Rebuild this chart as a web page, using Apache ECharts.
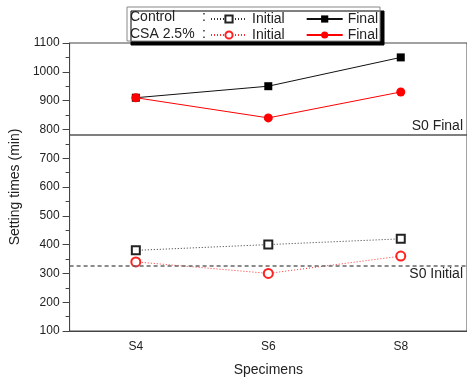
<!DOCTYPE html>
<html>
<head>
<meta charset="utf-8">
<script src="https://cdn.jsdelivr.net/npm/echarts@6/dist/echarts.min.js"></script>
<style>
  html, body { margin: 0; padding: 0; background: #fff; }
  #chart { width: 467px; height: 382px; }
</style>
</head>
<body>
<div id="chart"></div>
<script>
const categories = ['S4', 'S6', 'S8'];
const controlInitial = [380, 400, 420];
const controlFinal = [910, 950, 1050];
const csaInitial = [340, 300, 360];
const csaFinal = [910, 840, 930];
const s0Final = 780;
const s0Initial = 328;

const font = "'Liberation Sans', Arial, sans-serif";
const chart = echarts.init(document.getElementById('chart'));

const legendBase = {
  orient: 'horizontal',
  left: 210,
  padding: 0,
  itemGap: 21,
  itemWidth: 36,
  itemHeight: 9,
  z: 11,
  selectedMode: false,
  textStyle: { fontFamily: font, fontSize: 14, color: '#222' },
  formatter: function (name) { return name.split(' ').pop(); }
};

const option = {
  animation: false,
  grid: {
    left: 69, top: 43, width: 400, height: 289,
    show: true, borderColor: '#444', borderWidth: 1, backgroundColor: 'transparent'
  },
  legend: [
    Object.assign({}, legendBase, { top: 12, data: ['Control Initial', 'Control Final'] }),
    Object.assign({}, legendBase, { top: 28, data: ['CSA Initial', 'CSA Final'] })
  ],
  graphic: [
    {
      type: 'rect', z: 10,
      shape: { x: 127, y: 7, width: 253, height: 34 },
      style: { fill: '#fff', stroke: '#888', lineWidth: 1, shadowColor: '#000', shadowOffsetX: 4, shadowOffsetY: 4, shadowBlur: 0 }
    },
    { type: 'text', z: 11, left: 130, top: 10, style: { text: 'Control', font: '14px ' + font, fill: '#222' } },
    { type: 'text', z: 11, left: 202, top: 10, style: { text: ':', font: '14px ' + font, fill: '#222' } },
    { type: 'text', z: 11, left: 130, top: 27, style: { text: 'CSA 2.5%', font: '14px ' + font, fill: '#222' } },
    { type: 'text', z: 11, left: 202, top: 27, style: { text: ':', font: '14px ' + font, fill: '#222' } }
  ],
  xAxis: {
    type: 'category',
    data: categories,
    boundaryGap: true,
    name: 'Specimens',
    nameLocation: 'middle',
    nameGap: 32,
    nameTextStyle: { fontFamily: font, fontSize: 14, color: '#222' },
    axisLine: { lineStyle: { color: '#444', width: 1 } },
    axisTick: { alignWithLabel: true, length: 6, lineStyle: { color: '#444' } },
    axisLabel: { margin: 10, fontFamily: font, fontSize: 12, color: '#222' },
    splitLine: { show: false }
  },
  yAxis: {
    type: 'value',
    min: 100,
    max: 1100,
    interval: 100,
    name: 'Setting times (min)',
    nameLocation: 'middle',
    nameRotate: 90,
    nameGap: 39,
    nameTextStyle: { fontFamily: font, fontSize: 14, color: '#222' },
    axisLine: { show: true, lineStyle: { color: '#444', width: 1 } },
    axisTick: { show: true, length: 7, lineStyle: { color: '#444' } },
    minorTick: { show: true, splitNumber: 2, length: 4, lineStyle: { color: '#444' } },
    axisLabel: { margin: 10, fontFamily: font, fontSize: 12, color: '#222', formatter: function (v) { return String(v); } },
    splitLine: { show: false }
  },
  series: [
    {
      name: 'Control Initial', type: 'line', data: controlInitial,
      symbol: 'emptyRect', symbolSize: 8,
      itemStyle: { color: '#222', borderWidth: 1.5 },
      lineStyle: { color: '#333', width: 1, type: [1, 2] },
      markLine: {
        silent: true, symbol: 'none',
        lineStyle: { color: '#666', width: 1.5, type: [4, 3] },
        label: { position: 'insideEndBottom', formatter: 'S0 Initial', fontFamily: font, fontSize: 14, color: '#222', distance: [4, 2] },
        data: [{ yAxis: s0Initial }]
      }
    },
    {
      name: 'Control Final', type: 'line', data: controlFinal,
      symbol: 'rect', symbolSize: 8,
      itemStyle: { color: '#000' },
      lineStyle: { color: '#111', width: 1 },
      markLine: {
        silent: true, symbol: 'none',
        lineStyle: { color: '#555', width: 1.5, type: 'solid' },
        label: { position: 'insideEndTop', formatter: 'S0 Final', fontFamily: font, fontSize: 14, color: '#222', distance: [4, 2] },
        data: [{ yAxis: s0Final }]
      }
    },
    {
      name: 'CSA Initial', type: 'line', data: csaInitial,
      symbol: 'emptyCircle', symbolSize: 9,
      itemStyle: { color: '#ff2020', borderWidth: 1 },
      lineStyle: { color: '#ff3030', width: 1, type: [1, 2] }
    },
    {
      name: 'CSA Final', type: 'line', data: csaFinal,
      symbol: 'circle', symbolSize: 9,
      itemStyle: { color: '#ff0000' },
      lineStyle: { color: '#ff0000', width: 1 }
    }
  ]
};

chart.setOption(option);
</script>
</body>
</html>
